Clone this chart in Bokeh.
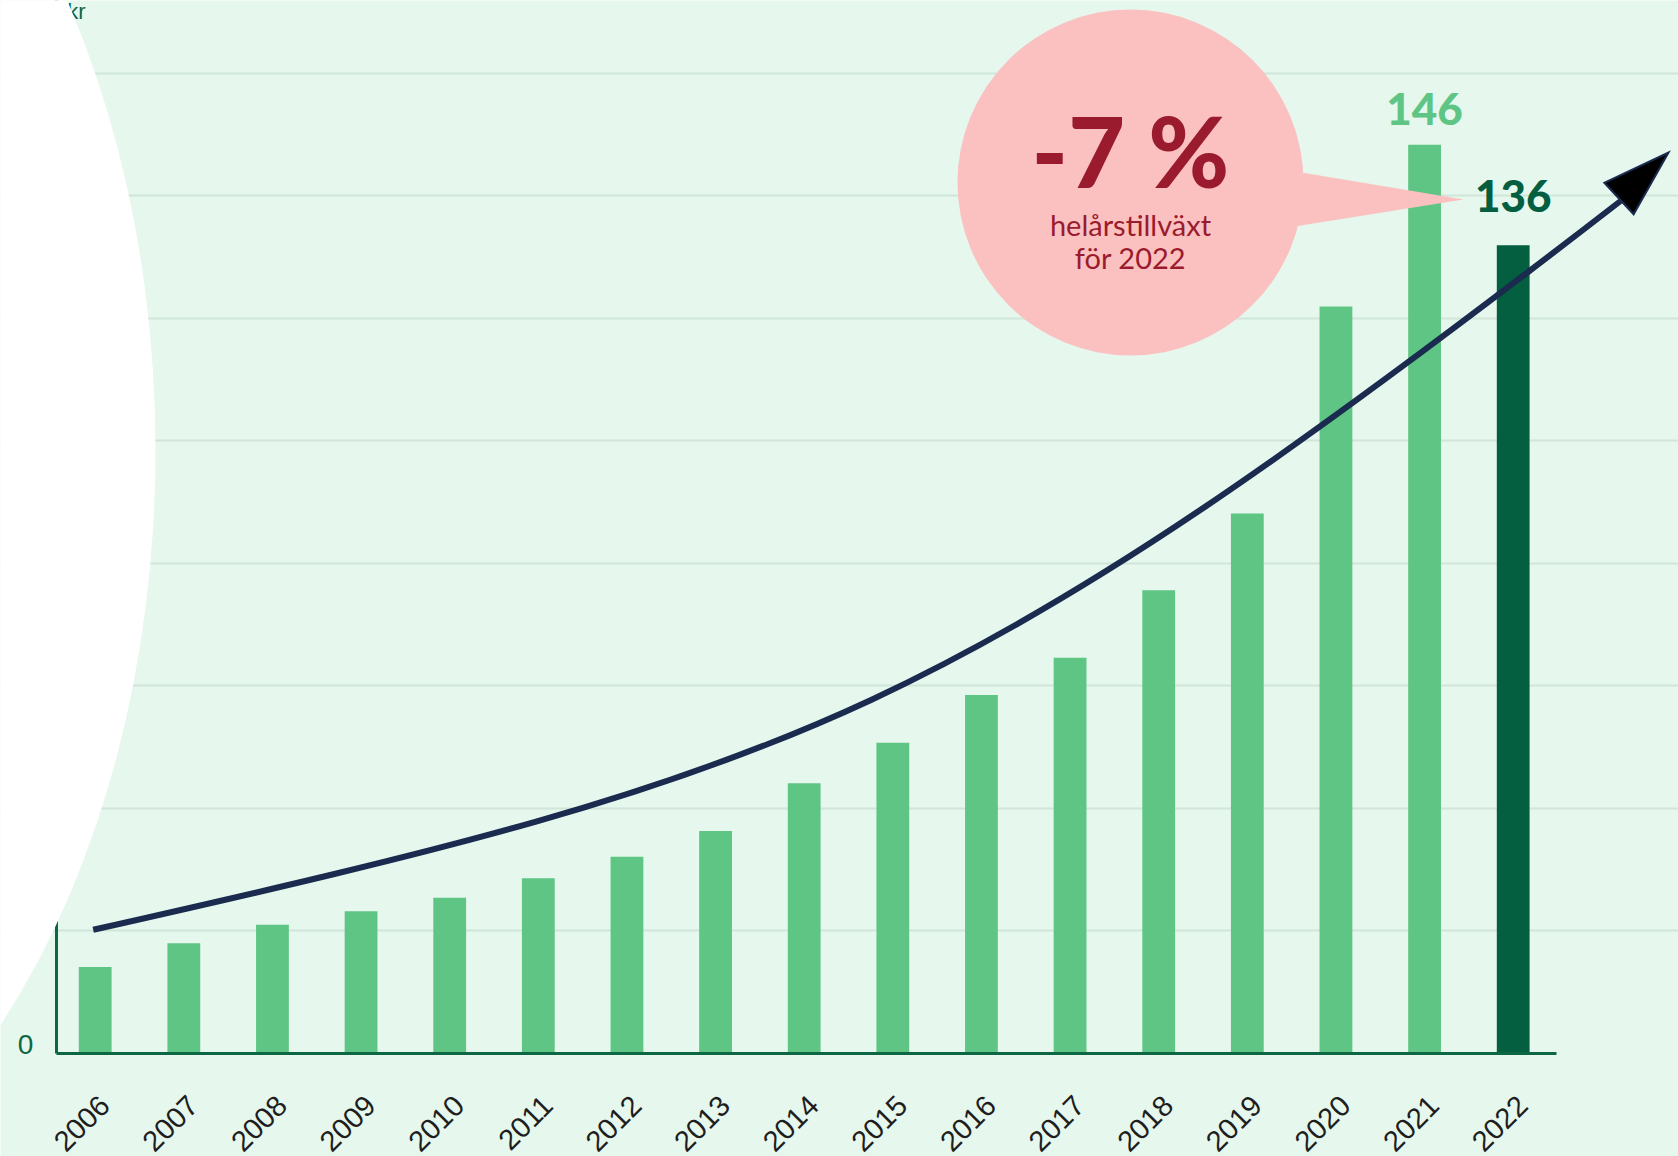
import math
from bokeh.plotting import figure
from bokeh.models import (Range1d, FixedTicker, ColumnDataSource,
                          CustomJSTickFormatter)
from bokeh.core.properties import value
from bokeh.embed import file_html
from bokeh.resources import INLINE

# ---------------- data ----------------
years = [2006, 2007, 2008, 2009, 2010, 2011, 2012, 2013, 2014, 2015,
         2016, 2017, 2018, 2019, 2020, 2021, 2022]
values = [14.1, 18.0, 21.0, 23.2, 25.4, 28.6, 32.1, 36.3, 44.1, 50.7,
          58.5, 64.6, 75.6, 88.1, 121.9, 148.3, 131.9]
highlight_year = 2022
grid_values = [20, 40, 60, 80, 100, 120, 140, 160]
label_years = [2021, 2022]
label_texts = ["146", "136"]
bubble_big = "-7 %"
bubble_lines = ["helårstillväxt", "för 2022"]
y_unit_text = "Mdr kr"
zero_text = "0"

# ---------------- style ----------------
BG = "#e6f7ed"
GRID = "#cfe6d9"
LIGHT = "#5ec584"
DARK = "#035f3f"
AXIS = "#0d6644"
NAVY = "#1a2b4f"
PINK = "#fbc1c1"
RED = "#9b1b2e"
HEAVY = value("Lato Black, Lato")

# pixel geometry (canvas coordinates)
XPX = 88.625      # px per year
YPX = 6.128       # px per value unit
X_REF0 = 94.7     # canvas x of the 2006 bar centre
Y_BASE = 1053     # canvas y of the zero line
BASE_CORR = 0.39  # baseline correction of text, in em


def rx(X):
    return 2006 + (X - X_REF0) / XPX


def ry(Y):
    return (Y_BASE - Y) / YPX


def ty(Y, fs):
    # data y for a text whose alphabetic baseline should sit at canvas Y
    return ry(Y - BASE_CORR * fs)


W, H = 1678, 1156

p = figure(width=W, height=H,
           x_range=Range1d(rx(0), rx(W)), y_range=Range1d(ry(H), ry(0)),
           output_backend="svg", toolbar_location=None, y_axis_location=None,
           min_border_left=0, min_border_right=0, min_border_top=0,
           min_border_bottom=0,
           background_fill_color=BG, border_fill_color=BG,
           outline_line_color=None)

p.xgrid.visible = False
p.ygrid.ticker = FixedTicker(ticks=grid_values)
p.ygrid.bounds = (rx(56), rx(1556))
p.ygrid.grid_line_color = GRID
p.ygrid.grid_line_width = 2

LBL_SHIFT = 0.105
ax = p.xaxis[0]
ax.fixed_location = 0
ax.ticker = FixedTicker(ticks=[y + LBL_SHIFT for y in years])
ax.formatter = CustomJSTickFormatter(code="return Math.floor(tick).toFixed(0);")
ax.bounds = (rx(56), rx(1556))
ax.axis_line_color = AXIS
ax.axis_line_width = 3
ax.major_tick_line_color = None
ax.minor_tick_line_color = None
ax.major_tick_in = 0
ax.major_tick_out = 0
ax.major_label_orientation = math.pi / 4
ax.major_label_standoff = 47
ax.major_label_text_font = "Liberation Sans"
ax.major_label_text_font_size = "29px"
ax.major_label_text_color = "#1e1e1e"

# left axis line (mostly hidden by the white shape)
p.segment(x0=[rx(56)], y0=[0], x1=[rx(56)], y1=[ry(0)],
          line_color=AXIS, line_width=3)

colors = [DARK if y == highlight_year else LIGHT for y in years]
src = ColumnDataSource(dict(year=years, value=values, color=colors))
p.vbar(x="year", top="value", bottom=0, width=0.37, fill_color="color",
       line_color=None, source=src)

# value labels
LAB_FS = 44
lab_vals = [values[years.index(y)] for y in label_years]
lab_gap_px = [19, 32]
lab_colors = [LIGHT, DARK]
p.text(x=label_years,
       y=[v + (g + BASE_CORR * LAB_FS) / YPX for v, g in zip(lab_vals, lab_gap_px)],
       text=label_texts, text_color=lab_colors,
       text_font=HEAVY, text_font_style="bold",
       text_font_size=f"{LAB_FS}px", text_align="center",
       text_baseline="alphabetic")

# trend arrow
p.bezier(x0=[rx(92.7)], y0=[ry(929.3)], x1=[rx(1622)], y1=[ry(199)],
         cx0=[rx(800)], cy0=[ry(770)], cx1=[rx(950)], cy1=[ry(719)],
         line_color=NAVY, line_width=6)
tip = (1668, 152)
ang = math.atan2(46, 49.5)
L, HW = 67.6, 21.5
bx, by = tip[0] - L * math.cos(ang), tip[1] + L * math.sin(ang)
nx, ny = math.sin(ang), math.cos(ang)
head_x = [tip[0], bx + HW * nx, bx - HW * nx]
head_y = [tip[1], by + HW * ny, by - HW * ny]
p.patch(x=[rx(v) for v in head_x], y=[ry(v) for v in head_y],
        fill_color="#000000", line_color=NAVY, line_width=2,
        line_join="miter")

# unit text at top-left (cut by the white shape) and zero label
p.text(x=[rx(85)], y=[ty(20, 22)], text=[y_unit_text], text_color=AXIS,
       text_font=value("Liberation Sans"), text_font_size="22px",
       text_align="right", text_baseline="alphabetic")
p.text(x=[rx(25)], y=[ty(1055, 28)], text=[zero_text], text_color=AXIS,
       text_font=value("Liberation Sans"), text_font_size="28px",
       text_align="center", text_baseline="alphabetic")

# white shape on the left
p.ellipse(x=[rx(-355)], y=[ry(450)], width=[1020 / XPX],
          height=[1600 / YPX], fill_color="#ffffff", line_color=None)

# speech bubble
p.patch(x=[rx(1280), rx(1463), rx(1280)],
        y=[ry(168.4), ry(199), ry(228.2)],
        fill_color=PINK, line_color=None)
p.circle(x=[rx(1130)], y=[ry(182)], radius=173 / XPX,
         fill_color=PINK, line_color=None)
p.text(x=[rx(1130)], y=[ty(188, 98)], text=[bubble_big], text_color=RED,
       text_font=HEAVY, text_font_style="bold",
       text_font_size="98px", text_align="center",
       text_baseline="alphabetic")
p.text(x=[rx(1130), rx(1130)], y=[ty(235, 29), ty(268, 29)],
       text=bubble_lines, text_color=RED, text_font=value("Lato"),
       text_font_size="29px", text_align="center",
       text_baseline="alphabetic")

open("out.html", "w").write(file_html(p, INLINE))
